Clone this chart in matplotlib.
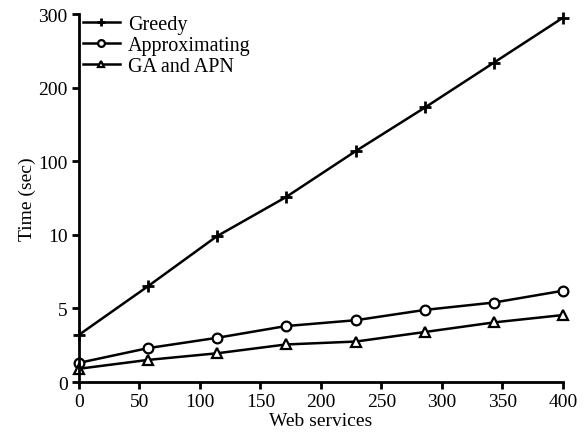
import numpy as np
import matplotlib.pyplot as plt

# data
web_services = [0, 57, 114, 171, 229, 286, 343, 400]
greedy = [3.2, 6.5, 9.9, 56, 114, 173, 234, 295]
approximating = [1.3, 2.3, 3.0, 3.8, 4.2, 4.9, 5.4, 6.2]
ga_apn = [0.9, 1.5, 1.95, 2.55, 2.75, 3.4, 4.05, 4.55]

y_ticks = [0, 5, 10, 100, 200, 300]
x_ticks = [0, 50, 100, 150, 200, 250, 300, 350, 400]

# piecewise axis: every labelled tick is evenly spaced
tick_pos = np.arange(len(y_ticks), dtype=float)
def fwd(v):
    return np.interp(v, y_ticks, tick_pos)
def inv(p):
    return np.interp(p, tick_pos, y_ticks)

plt.rcParams['font.family'] = ['Liberation Serif', 'DejaVu Serif']

fig = plt.figure(figsize=(5.84, 4.35), dpi=100)
ax = fig.add_axes([0.135, 0.1195, 0.829, 0.846])

ax.plot(web_services, greedy, color="black", lw=1.8, marker="+", ms=9, mew=2, label="Greedy")
ax.plot(web_services, approximating, color="black", lw=1.8, marker="o", ms=7, mfc="white", mew=1.6, label="Approximating")
ax.plot(web_services, ga_apn, color="black", lw=1.8, marker="^", ms=7, mfc="white", mew=1.6, label="GA and APN")

ax.set_yscale("function", functions=(fwd, inv))
ax.set_xlim(0, 400)
ax.set_ylim(0, 300)
ax.set_xticks(x_ticks)
ax.set_yticks(y_ticks)
ax.set_yticklabels([str(t) for t in y_ticks])
ax.minorticks_off()

for s in ["top", "right"]:
    ax.spines[s].set_visible(False)
for s in ["left", "bottom"]:
    ax.spines[s].set_linewidth(2)
ax.tick_params(width=2, length=5, labelsize=14, direction="out", pad=3)
for ln in ax.lines:
    ln.set_clip_on(False)

ax.set_xlabel("Web services", fontsize=14, labelpad=1)
ax.set_ylabel("Time (sec)", fontsize=14, labelpad=2)

ax.legend(loc="upper left", frameon=False, fontsize=14.5, handlelength=1.85,
          handletextpad=0.4, labelspacing=0.1, borderaxespad=0.0, borderpad=0.2,
          markerscale=0.7, bbox_to_anchor=(0.0, 1.008))

fig.savefig("out.png", dpi=100)
